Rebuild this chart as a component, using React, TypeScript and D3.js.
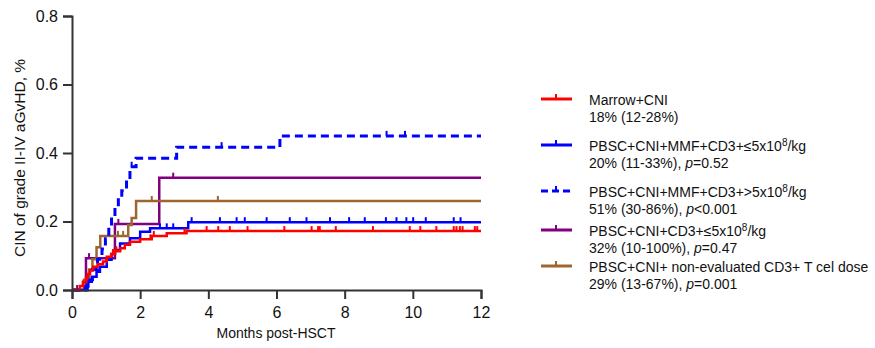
import React, { useEffect, useRef } from 'react';
import * as d3 from 'd3';

// x axis: months post-HSCT, y axis: cumulative incidence
const xTicks = [0, 2, 4, 6, 8, 10, 12];
const yTicks = [0, 0.2, 0.4, 0.6, 0.8];

// Marrow+CNI
const redT = [0, 0.23, 0.32, 0.41, 0.47, 0.53, 0.62, 0.75, 0.91, 1.02, 1.15, 1.26, 1.41, 1.55, 1.7, 2.0, 2.34, 2.78, 3.36];
const redV = [0, 0.012, 0.024, 0.035, 0.047, 0.058, 0.068, 0.075, 0.083, 0.097, 0.105, 0.113, 0.122, 0.132, 0.141, 0.148, 0.158, 0.166, 0.172];
const redCens = [0.45, 1.2, 1.25, 1.3, 2.3, 2.4, 3.3, 3.95, 4.29, 4.63, 5.15, 6.23, 7.03, 7.22, 7.27, 7.74, 8.83, 9.91, 10.22, 10.69, 11.2, 11.28, 11.38, 11.46, 11.82, 11.89];

// PBSC+CNI+MMF+CD3+ <=5x10^8/kg
const blueT = [0, 0.38, 0.48, 0.58, 0.72, 0.82, 1.02, 1.16, 1.26, 1.41, 1.7, 2.0, 2.29, 3.41];
const blueV = [0, 0.01, 0.024, 0.039, 0.053, 0.068, 0.088, 0.105, 0.117, 0.136, 0.151, 0.17, 0.18, 0.198];
const blueCens = [2.58, 2.78, 2.97, 3.51, 4.34, 4.83, 5.07, 5.71, 6.39, 6.88, 7.57, 8.13, 8.59, 9.21, 9.52, 9.81, 10.01, 10.38, 11.2, 11.4];

// PBSC+CNI+MMF+CD3+ >5x10^8/kg
const dashT = [0, 0.45, 0.6, 0.75, 0.88, 0.98, 1.08, 1.16, 1.26, 1.36, 1.46, 1.6, 1.7, 1.88, 3.07, 6.1];
const dashV = [0, 0.03, 0.06, 0.09, 0.12, 0.15, 0.185, 0.215, 0.243, 0.27, 0.29, 0.32, 0.36, 0.385, 0.417, 0.45];
const dashCens = [1.75, 4.39, 9.23, 9.77];

// PBSC+CNI+CD3+ <=5x10^8/kg
const purT = [0, 0.41, 1.26, 2.56];
const purV = [0, 0.093, 0.193, 0.328];
const purCens = [0.15, 0.5, 1.36, 2.97];

// PBSC+CNI+ non-evaluated CD3+ dose
const brT = [0, 0.35, 0.5, 0.6, 0.72, 0.83, 1.65, 1.75, 1.88];
const brV = [0, 0.03, 0.06, 0.09, 0.125, 0.158, 0.19, 0.21, 0.26];
const brCens = [1.35, 1.5, 2.34, 4.28];

const legendTitles = [
  'Marrow+CNI',
  'PBSC+CNI+MMF+CD3+≤5x10',
  'PBSC+CNI+MMF+CD3+>5x10',
  'PBSC+CNI+CD3+≤5x10',
  'PBSC+CNI+ non-evaluated CD3+ T cel dose',
];
const legendStats = ['18% (12-28%)', '20% (11-33%), ', '51% (30-86%), ', '32% (10-100%), ', '29% (13-67%), '];
const legendP = ['', '=0.52', '<0.001', '=0.47', '=0.001'];

const RED = '#ff0000';
const BLUE = '#0000ff';
const PURPLE = '#800080';
const BROWN = '#9c6631';

const App: React.FC = () => {
  const svgRef = useRef<SVGSVGElement>(null);

  useEffect(() => {
    const svg = d3.select(svgRef.current);
    svg.selectAll('*').remove();
    const font = 'Liberation Sans, Arial, sans-serif';

    const x = d3.scaleLinear().domain([0, 12]).range([72, 481]);
    const y = d3.scaleLinear().domain([0, 0.8]).range([290, 16]);

    const series = [
      { t: purT, v: purV, c: purCens, color: PURPLE, dash: null },
      { t: brT, v: brV, c: brCens, color: BROWN, dash: null },
      { t: dashT, v: dashV, c: dashCens, color: BLUE, dash: '8,5' },
      { t: blueT, v: blueV, c: blueCens, color: BLUE, dash: null },
      { t: redT, v: redV, c: redCens, color: RED, dash: null },
    ];

    const line = d3.line<[number, number]>()
      .x(d => x(d[0]))
      .y(d => y(d[1]))
      .curve(d3.curveStepAfter);

    series.forEach(s => {
      const pts: [number, number][] = s.t.map((t, i) => [t, s.v[i]]);
      pts.push([12, s.v[s.v.length - 1]]);
      svg.append('path')
        .attr('d', line(pts))
        .attr('fill', 'none')
        .attr('stroke', s.color)
        .attr('stroke-width', s.dash ? 3 : 2.5)
        .attr('stroke-dasharray', s.dash);
      const bis = d3.bisector((d: number) => d).right;
      svg.append('g').selectAll('line')
        .data(s.c)
        .enter().append('line')
        .attr('x1', d => x(d))
        .attr('x2', d => x(d))
        .attr('y1', d => y(s.v[bis(s.t, d) - 1]))
        .attr('y2', d => y(s.v[bis(s.t, d) - 1]) - 5)
        .attr('stroke', s.color)
        .attr('stroke-width', 2);
    });

    // axes
    const axisColor = '#333';
    const xa = svg.append('g')
      .attr('transform', 'translate(0,290)')
      .call(d3.axisBottom(x).tickValues(xTicks).tickSize(9).tickFormat(d3.format('d')));
    xa.selectAll('text').attr('font-size', 16).attr('font-family', font).attr('fill', '#111').attr('dy', '1.0em');
    const ya = svg.append('g')
      .attr('transform', 'translate(72,0)')
      .call(d3.axisLeft(y).tickValues(yTicks).tickSize(9).tickFormat(d3.format('.1f')));
    ya.selectAll('text').attr('font-size', 16).attr('font-family', font).attr('fill', '#111').attr('x', -14);
    svg.selectAll('.domain, .tick line').attr('stroke', axisColor).attr('stroke-width', 2);

    svg.append('text')
      .attr('x', 276)
      .attr('y', 338)
      .attr('text-anchor', 'middle')
      .attr('font-size', 14)
      .attr('font-family', font)
      .attr('fill', '#111')
      .text('Months post-HSCT');

    svg.append('text')
      .attr('transform', 'rotate(-90)')
      .attr('x', -158)
      .attr('y', 25)
      .attr('text-anchor', 'middle')
      .attr('font-size', 15.5)
      .attr('font-family', font)
      .attr('fill', '#111')
      .text('CIN of grade II-IV aGvHD, %');

    // legend
    const legColors = [RED, BLUE, BLUE, PURPLE, BROWN];
    const legDash = [null, null, '7,4', null, null];
    const legY = [99, 145, 191, 230, 266];
    legY.forEach((ly, i) => {
      const g = svg.append('g');
      g.append('line')
        .attr('x1', 541).attr('x2', 572).attr('y1', ly).attr('y2', ly)
        .attr('stroke', legColors[i]).attr('stroke-width', 3)
        .attr('stroke-dasharray', legDash[i]);
      g.append('line')
        .attr('x1', 556).attr('x2', 556).attr('y1', ly).attr('y2', ly - 5)
        .attr('stroke', legColors[i]).attr('stroke-width', 2);
      const t1 = g.append('text')
        .attr('x', 589).attr('y', ly + 6)
        .attr('font-size', 14).attr('font-family', font).attr('fill', '#111')
        .text(legendTitles[i]);
      if (i > 0 && i < 4) {
        t1.append('tspan').attr('dy', -5).attr('font-size', 10).text('8');
        t1.append('tspan').attr('dy', 5).text('/kg');
      }
      const t2 = g.append('text')
        .attr('x', 589).attr('y', ly + 23)
        .attr('font-size', 14).attr('font-family', font).attr('fill', '#111')
        .text(legendStats[i]);
      if (legendP[i]) {
        t2.append('tspan').attr('font-style', 'italic').text('p');
        t2.append('tspan').text(legendP[i]);
      }
    });
  }, []);

  return (
    <div style={{ position: 'fixed', left: 0, top: 0 }}>
      <svg ref={svgRef} width={875} height={348} style={{ display: 'block', background: '#fff' }} />
    </div>
  );
};

export default App;
